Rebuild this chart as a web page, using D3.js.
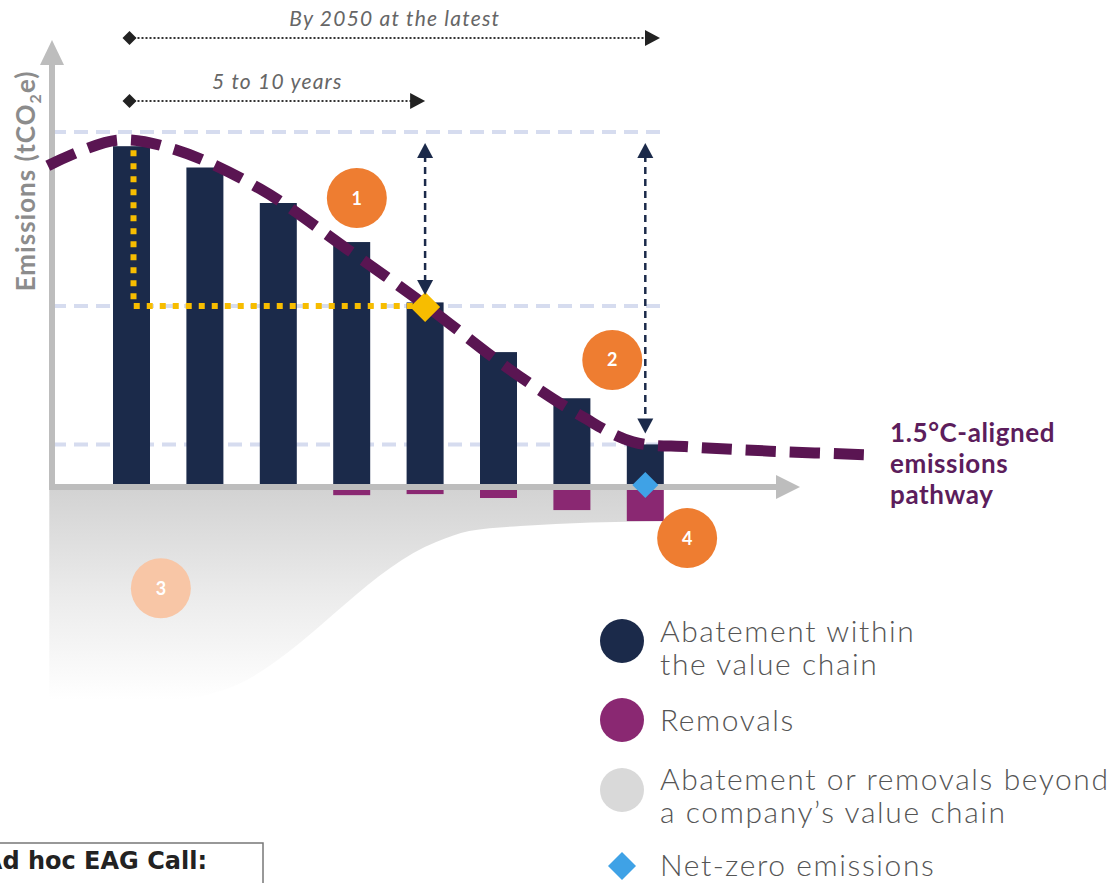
<!DOCTYPE html>
<html>
<head>
<meta charset="utf-8">
<script src="https://cdn.jsdelivr.net/npm/d3@7"></script>
<style>
  body { margin: 0; background: #fff; overflow: hidden; }
  svg { display: block; font-family: Lato, "Open Sans", sans-serif; }
</style>
</head>
<body>
<div class="chart"></div>
<script>
// periods on the x axis (index 0..7), values in % of base-year emissions
const periods = [0, 1, 2, 3, 4, 5, 6, 7]
const abatement = [96, 90, 80, 69, 52, 38, 25, 12]
const removals = [0, 0, 0, 2.3, 2.0, 3.1, 6.5, 9.6]
const refLevels = [100, 51, 12]

// 1.5C pathway
const pathwayX = [-1.14, -0.2, 0.6, 1.75, 2.94, 4.0, 5.16, 6.15, 6.83, 7.6, 8.7, 10.13]
const pathwayY = [90.5, 97.7, 95, 84, 67, 51.3, 33, 19.7, 12.7, 11.3, 10.1, 9.0]

// area beyond the value chain (lower edge)
const beyondX = [-1.12, 0.6, 1.2, 4.15, 4.6, 5.3, 7.23]
const beyondY = [-60, -60, -57.5, -15.5, -12.4, -11, -9.6]

// timeline spans above the chart
const spanLabels = ["By 2050 at the latest", "5 to 10 years"]
const spanEnds = [7.2, 4.0]
const spanLevels = [126.5, 108.7]

// vertical gap arrows
const gapX = [4, 7]
const gapFrom = [100, 100]
const gapTo = [51, 12]

// numbered markers
const markerLabels = ["1", "2", "3", "4"]
const markerX = [3.07, 6.55, 0.4, 7.57]
const markerY = [81.4, 35.8, -28.5, -14.4]

const legendLabels = [
  ["Abatement within", "the value chain"],
  ["Removals"],
  ["Abatement or removals beyond", "a company\u2019s value chain"],
  ["Net-zero emissions"]
]

const navy = "#1b2a4a"
const plum = "#8a2872"
const pathColor = "#5a1552"
const orange = "#ee7d31"
const gold = "#f7bd00"
const sky = "#3fa2e6"
const axisGray = "#bdbdbd"

const width = 1118
const height = 883

const x = d3.scaleLinear().domain([0, 7]).range([131.5, 645.3])
const y = d3.scaleLinear().domain([0, 100]).range([487, 132])
const barW = 37
const axisX = 52

const svg = d3.select(".chart")
  .append("svg")
  .attr("width", width)
  .attr("height", height)

const defs = svg.append("defs")
const grad = defs.append("linearGradient")
  .attr("id", "fade")
  .attr("x1", 0).attr("y1", 0).attr("x2", 0).attr("y2", 1)
grad.append("stop").attr("offset", "0%").attr("stop-color", "#d2d2d2")
grad.append("stop").attr("offset", "50%").attr("stop-color", "#ebebeb")
grad.append("stop").attr("offset", "100%").attr("stop-color", "#ffffff")

// gray area beyond value chain
const beyond = d3.zip(beyondX, beyondY)
svg.append("path")
  .datum(beyond)
  .attr("d", d3.area()
    .x(d => x(d[0]))
    .y0(y(0))
    .y1(d => y(d[1]))
    .curve(d3.curveMonotoneX))
  .attr("fill", "url(#fade)")

// reference gridlines
svg.selectAll(".ref")
  .data(refLevels)
  .enter()
  .append("line")
    .attr("x1", axisX)
    .attr("x2", x(7.2))
    .attr("y1", d => y(d))
    .attr("y2", d => y(d))
    .attr("stroke", "#d6dcef")
    .attr("stroke-width", 4)
    .attr("stroke-dasharray", "14,8")

// abatement bars
svg.selectAll(".bar")
  .data(periods)
  .enter()
  .append("rect")
    .attr("x", i => x(i) - barW / 2)
    .attr("y", i => y(abatement[i]))
    .attr("width", barW)
    .attr("height", i => y(0) - y(abatement[i]))
    .attr("fill", navy)

// removal bars
svg.selectAll(".rem")
  .data(periods.filter(i => removals[i] > 0))
  .enter()
  .append("rect")
    .attr("x", i => x(i) - barW / 2)
    .attr("y", y(0))
    .attr("width", barW)
    .attr("height", i => y(-removals[i]) - y(0))
    .attr("fill", plum)

// yellow dotted target guide
svg.append("path")
  .attr("d", `M${x(0) + 2},${y(abatement[0]) + 4}V${y(refLevels[1])}H${x(4) - 6}`)
  .attr("fill", "none")
  .attr("stroke", gold)
  .attr("stroke-width", 6)
  .attr("stroke-dasharray", "6,7")

// axes
svg.append("line")
  .attr("x1", axisX).attr("x2", axisX)
  .attr("y1", y(0) + 3).attr("y2", 62)
  .attr("stroke", axisGray).attr("stroke-width", 6)
svg.append("path")
  .attr("d", `M${axisX},40L${axisX - 12},65L${axisX + 12},65Z`)
  .attr("fill", axisGray)
svg.append("line")
  .attr("x1", axisX - 3).attr("x2", 780)
  .attr("y1", y(0)).attr("y2", y(0))
  .attr("stroke", axisGray).attr("stroke-width", 6)
svg.append("path")
  .attr("d", `M800,${y(0)}L776,${y(0) - 12}L776,${y(0) + 12}Z`)
  .attr("fill", axisGray)

// pathway
const pathway = d3.zip(pathwayX, pathwayY)
svg.append("path")
  .datum(pathway)
  .attr("d", d3.line()
    .x(d => x(d[0]))
    .y(d => y(d[1]))
    .curve(d3.curveCatmullRom))
  .attr("fill", "none")
  .attr("stroke", pathColor)
  .attr("stroke-width", 11)
  .attr("stroke-dasharray", "30,14")

const diamond = (cx, cy, r) => `M${cx},${cy - r}L${cx + r},${cy}L${cx},${cy + r}L${cx - r},${cy}Z`

// near-term target and net-zero diamonds
svg.append("path").attr("d", diamond(x(4), y(refLevels[1]) + 1, 15)).attr("fill", gold)
svg.append("path").attr("d", diamond(x(7), y(0) - 2, 13)).attr("fill", sky)

// vertical gap arrows
gapX.forEach((g, k) => {
  const top = y(gapFrom[k]) + 11
  const bot = y(gapTo[k]) - 11
  svg.append("line")
    .attr("x1", x(g)).attr("x2", x(g))
    .attr("y1", top + 12).attr("y2", bot - 12)
    .attr("stroke", navy).attr("stroke-width", 2.5)
    .attr("stroke-dasharray", "7,5")
  svg.append("path")
    .attr("d", `M${x(g)},${top}L${x(g) - 8},${top + 15}L${x(g) + 8},${top + 15}Z`)
    .attr("fill", navy)
  svg.append("path")
    .attr("d", `M${x(g)},${bot}L${x(g) - 8},${bot - 15}L${x(g) + 8},${bot - 15}Z`)
    .attr("fill", navy)
})

// timeline spans
spanLabels.forEach((label, k) => {
  const yy = y(spanLevels[k])
  const x0 = x(0) - 2
  const x1 = x(spanEnds[k])
  svg.append("line")
    .attr("x1", x0).attr("x2", x1 - 12)
    .attr("y1", yy).attr("y2", yy)
    .attr("stroke", "#333").attr("stroke-width", 2)
    .attr("stroke-dasharray", "2,2")
  svg.append("path").attr("d", diamond(x0, yy, 7)).attr("fill", "#222")
  svg.append("path")
    .attr("d", `M${x1},${yy}L${x1 - 15},${yy - 8}L${x1 - 15},${yy + 8}Z`)
    .attr("fill", "#222")
  svg.append("text")
    .attr("x", (x0 + x1) / 2)
    .attr("y", yy - 12)
    .attr("text-anchor", "middle")
    .attr("font-style", "italic")
    .attr("font-size", 21)
    .attr("letter-spacing", 1.2)
    .attr("fill", "#666")
    .text(label)
})

// numbered markers
svg.selectAll(".marker")
  .data(markerLabels)
  .enter()
  .append("g")
    .attr("transform", (d, i) => `translate(${x(markerX[i])},${y(markerY[i])})`)
    .each(function(d) {
      const g = d3.select(this)
      g.append("circle")
        .attr("r", 30)
        .attr("fill", d === "3" ? "#f8c6a6" : orange)
      g.append("text")
        .attr("text-anchor", "middle")
        .attr("dy", "0.36em")
        .attr("font-size", 18)
        .attr("font-weight", 700)
        .attr("fill", "#fff")
        .text(d)
    })

// pathway label
const lastX = x(pathwayX[pathwayX.length - 1]) + 15
svg.append("text")
  .attr("x", lastX)
  .attr("y", 442)
  .attr("font-size", 26)
  .attr("font-weight", 700)
  .attr("letter-spacing", 0.6)
  .attr("fill", "#5c1d5c")
  .selectAll("tspan")
  .data(["1.5\u00b0C-aligned", "emissions", "pathway"])
  .enter()
  .append("tspan")
    .attr("x", lastX)
    .attr("dy", (d, i) => i === 0 ? 0 : 31)
    .text(d => d)

// y axis label
const yl = svg.append("text")
  .attr("transform", "translate(35,181) rotate(-90)")
  .attr("text-anchor", "middle")
  .attr("font-size", 26)
  .attr("font-weight", 700)
  .attr("letter-spacing", 1)
  .attr("fill", "#8c8c8c")
yl.append("tspan").text("Emissions (tCO")
yl.append("tspan").attr("font-size", 16).attr("dy", 6).text("2")
yl.append("tspan").attr("dy", -6).text("e)")

// legend
const legendY = [641, 720, 790, 866]
const legendBase = [[642, 675], [731], [790, 823], [876]]
const legendColors = [navy, plum, "#d9d9d9", sky]
legendLabels.forEach((lines, k) => {
  if (k < 3) {
    svg.append("circle").attr("cx", 622).attr("cy", legendY[k]).attr("r", 22).attr("fill", legendColors[k])
  } else {
    svg.append("path").attr("d", diamond(622, legendY[k], 14)).attr("fill", legendColors[k])
  }
  lines.forEach((t, j) => {
    svg.append("text")
      .attr("x", 660)
      .attr("y", legendBase[k][j])
      .attr("font-size", 30)
      .attr("font-weight", 300)
      .attr("letter-spacing", 1.6)
      .attr("fill", "#555")
      .text(t)
  })
})

// cropped box at bottom left
svg.append("rect")
  .attr("x", -10).attr("y", 843)
  .attr("width", 273).attr("height", 60)
  .attr("fill", "none")
  .attr("stroke", "#777").attr("stroke-width", 1.5)
svg.append("text")
  .attr("x", 207).attr("y", 869)
  .attr("text-anchor", "end")
  .attr("font-family", "DejaVu Sans")
  .attr("font-size", 24)
  .attr("font-weight", 700)
  .attr("fill", "#222")
  .text("Ad hoc EAG Call:")
</script>
</body>
</html>
